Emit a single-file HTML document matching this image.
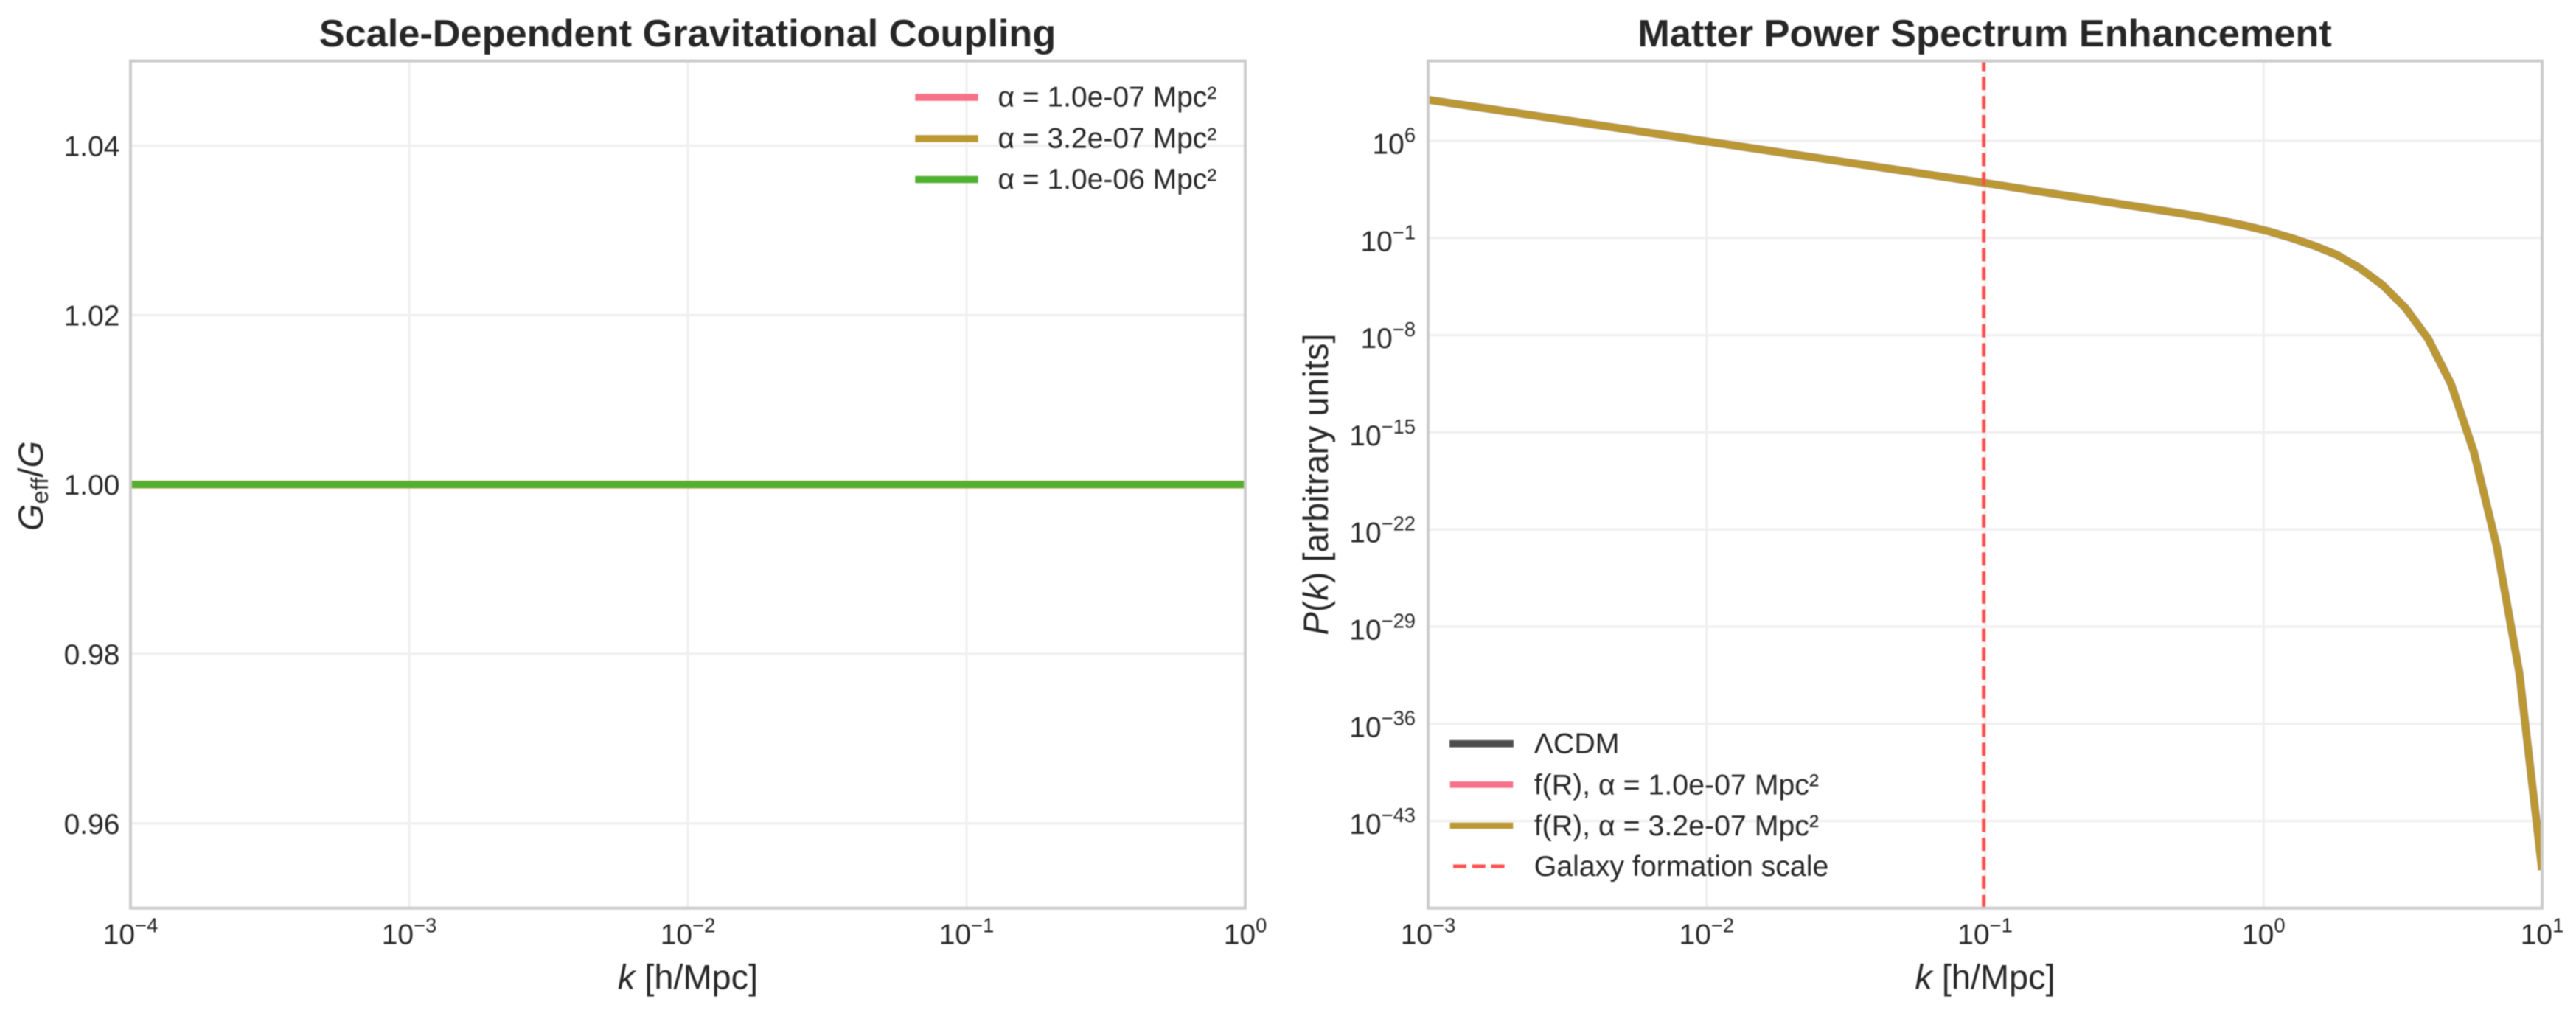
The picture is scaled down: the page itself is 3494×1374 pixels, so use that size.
<!DOCTYPE html>
<html>
<head>
<meta charset="utf-8">
<title>Gravitational coupling and matter power spectrum</title>
<style>
html,body{margin:0;padding:0;background:#fff;width:3494px;height:1374px;overflow:hidden}
svg{display:block;filter:blur(0.8px)}
text{font-family:"Liberation Sans","DejaVu Sans",sans-serif;fill:#262626}
</style>
</head>
<body>
<svg id="fig" xmlns="http://www.w3.org/2000/svg" width="3494" height="1374" viewBox="0 0 3494 1374">
<rect x="0" y="0" width="3494" height="1374" fill="#fff"/>
<defs>
<clipPath id="clipL"><rect x="177" y="82.7" width="1512" height="1149"/></clipPath>
<clipPath id="clipR"><rect x="1937" y="82.7" width="1511" height="1149"/></clipPath>
</defs>
<g id="left-grid"></g>
<g id="right-grid"></g>
<g id="left-series" clip-path="url(#clipL)"></g>
<g id="right-series" clip-path="url(#clipR)"></g>
<g id="left-legend"></g>
<g id="right-legend"></g>
<g id="spines"></g>
<g id="left-ticks"></g>
<g id="right-ticks"></g>
<text x="932.5" y="63" text-anchor="middle" font-size="52.3" font-weight="bold">Scale-Dependent Gravitational Coupling</text>
<text x="2692" y="63" text-anchor="middle" font-size="52.3" font-weight="bold">Matter Power Spectrum Enhancement</text>
<text x="933" y="1341.5" text-anchor="middle" font-size="46.9"><tspan font-style="italic">k</tspan> [h/Mpc]</text>
<text x="2692.5" y="1341.5" text-anchor="middle" font-size="46.9"><tspan font-style="italic">k</tspan> [h/Mpc]</text>
<text transform="translate(58,659) rotate(-90)" text-anchor="middle" font-size="46.9"><tspan font-style="italic">G</tspan><tspan font-size="32.8" dy="7">eff</tspan><tspan dy="-7">/</tspan><tspan font-style="italic">G</tspan></text>
<text transform="translate(1801,657) rotate(-90)" text-anchor="middle" font-size="46.9"><tspan font-style="italic">P</tspan>(<tspan font-style="italic">k</tspan>) [arbitrary units]</text>
</svg>
<script>
// ---------- Left chart data ----------
const gLog10K = [-4, -3, -2, -1, 0];
const gAlpha1 = [1.0, 1.0, 1.0, 1.0, 1.0];
const gAlpha2 = [1.0, 1.0, 1.0, 1.0, 1.0];
const gAlpha3 = [1.0, 1.0, 1.0, 1.0, 1.0];
const gXTicks = [-4, -3, -2, -1, 0];
const gYTicks = [0.96, 0.98, 1.00, 1.02, 1.04];
const gYTickLabels = ["0.96", "0.98", "1.00", "1.02", "1.04"];
const gLegendLabels = ["α = 1.0e-07 Mpc²", "α = 3.2e-07 Mpc²", "α = 1.0e-06 Mpc²"];

// ---------- Right chart data ----------
const pLog10K = [-3, -2, -1, -0.715, -0.3061, -0.2245, -0.1429, -0.0612, 0.0204, 0.1020, 0.1837, 0.2653, 0.3469, 0.4286, 0.5102, 0.5918, 0.6735, 0.7551, 0.8367, 0.9184, 1];
const pLcdm = [8.96, 5.96, 2.96, 2.07, 0.80, 0.53, 0.21, -0.13, -0.53, -1.01, -1.57, -2.23, -3.19, -4.41, -6.06, -8.29, -11.53, -16.41, -23.16, -32.34, -46.52];
const pAlpha1 = [8.96, 5.96, 2.96, 2.07, 0.80, 0.53, 0.21, -0.13, -0.53, -1.01, -1.57, -2.23, -3.19, -4.41, -6.06, -8.29, -11.53, -16.41, -23.16, -32.34, -46.52];
const pAlpha2 = [8.96, 5.96, 2.96, 2.07, 0.80, 0.53, 0.21, -0.13, -0.53, -1.01, -1.57, -2.23, -3.19, -4.41, -6.06, -8.29, -11.53, -16.41, -23.16, -32.34, -46.52];
const pXTicks = [-3, -2, -1, 0, 1];
const pYTicks = [6, -1, -8, -15, -22, -29, -36, -43];
const galaxyScaleLog10K = [-1.005];
const pLegendLabels = ["ΛCDM", "f(R), α = 1.0e-07 Mpc²", "f(R), α = 3.2e-07 Mpc²", "Galaxy formation scale"];

const NS = "http://www.w3.org/2000/svg";
const L = {left: 177, right: 1689, top: 82.7, bottom: 1231.7};
const R = {left: 1937, right: 3448, top: 82.7, bottom: 1231.7};

const xL = v => L.left + (v + 4) / 4 * (L.right - L.left);
const yL = v => L.top + (1.05 - v) / 0.1 * (L.bottom - L.top);
const xR = v => R.left + (v + 3) / 4 * (R.right - R.left);
const yR = v => 191 + (6 - v) * 18.83;

function add(parentId, tag, attrs, text) {
  const el = document.createElementNS(NS, tag);
  for (const k in attrs) el.setAttribute(k, attrs[k]);
  if (text !== undefined) el.textContent = text;
  document.getElementById(parentId).appendChild(el);
  return el;
}
function pathFrom(xs, ys, fx, fy) {
  return xs.map((x, i) => (i ? "L" : "M") + fx(x).toFixed(2) + " " + fy(ys[i]).toFixed(2)).join(" ");
}
function powerLabel(parent, x, y, anchor, exp) {
  const t = add(parent, "text", {x: x, y: y, "text-anchor": anchor, "font-size": 39}, "10");
  const s = document.createElementNS(NS, "tspan");
  s.setAttribute("font-size", "27.3");
  s.setAttribute("dy", "-16");
  s.textContent = String(exp).replace("-", "\u2212");
  t.appendChild(s);
  return t;
}

const GRID = {stroke: "#f0f0f0", "stroke-width": 3.25, fill: "none"};

// Left grid + tick labels
gXTicks.forEach(v => {
  const g = add("left-grid", "line", {x1: xL(v), x2: xL(v), y1: L.top, y2: L.bottom, ...GRID});
  
  
  const t = powerLabel("left-ticks", xL(v), 1280.5, "middle", v);
  
  
});
gYTicks.forEach((v, i) => {
  const g = add("left-grid", "line", {x1: L.left, x2: L.right, y1: yL(v), y2: yL(v), ...GRID});
  
  
  const t = add("left-ticks", "text", {x: 162.5, y: yL(v) + 14, "text-anchor": "end", "font-size": 39}, gYTickLabels[i]);
  
  
});

// Right grid + tick labels
pXTicks.forEach(v => {
  const g = add("right-grid", "line", {x1: xR(v), x2: xR(v), y1: R.top, y2: R.bottom, ...GRID});
  
  
  const t = powerLabel("right-ticks", xR(v), 1280.5, "middle", v);
  
  
});
pYTicks.forEach(v => {
  const g = add("right-grid", "line", {x1: R.left, x2: R.right, y1: yR(v), y2: yR(v), ...GRID});
  
  
  const t = powerLabel("right-ticks", 1920, yR(v) + 17.5, "end", v);
  
  
});

// Left series
const COLORS = {pink: "#f77189", gold: "#bb9832", green: "#50b131", dark: "#4d4d4d", red: "#ff4d4d"};
const LINE = {fill: "none", "stroke-linejoin": "round", "stroke-linecap": "butt"};

const l1 = add("left-series", "path", {d: pathFrom(gLog10K, gAlpha1, xL, yL), stroke: COLORS.pink, "stroke-width": 10.5, ...LINE});


const l2 = add("left-series", "path", {d: pathFrom(gLog10K, gAlpha2, xL, yL), stroke: COLORS.gold, "stroke-width": 10.5, ...LINE});


const l3 = add("left-series", "path", {d: pathFrom(gLog10K, gAlpha3, xL, yL), stroke: COLORS.green, "stroke-width": 9, ...LINE});



// Right series
const r0 = add("right-series", "path", {d: pathFrom(pLog10K, pLcdm, xR, yR), stroke: COLORS.dark, "stroke-width": 10.5, ...LINE});


const r1 = add("right-series", "path", {d: pathFrom(pLog10K, pAlpha1, xR, yR), stroke: COLORS.pink, "stroke-width": 9.75, ...LINE});


const r2 = add("right-series", "path", {d: pathFrom(pLog10K, pAlpha2, xR, yR), stroke: COLORS.gold, "stroke-width": 9.75, ...LINE});


const vl = add("right-series", "line", {x1: xR(galaxyScaleLog10K[0]), x2: xR(galaxyScaleLog10K[0]), y1: R.bottom, y2: R.top, stroke: COLORS.red, "stroke-width": 4.9, "stroke-dasharray": "18 7.8"});



// Left legend
const leftLegendRows = [132, 188, 243.5];
const leftLegendColors = [COLORS.pink, COLORS.gold, COLORS.green];
gLegendLabels.forEach((label, i) => {
  const ln = add("left-legend", "line", {x1: 1246, x2: 1322, y1: leftLegendRows[i], y2: leftLegendRows[i], stroke: leftLegendColors[i], "stroke-width": 9.4, "stroke-linecap": "square"});
  
  
  const t = add("left-legend", "text", {x: 1353.5, y: leftLegendRows[i] + 12.5, "font-size": 39}, label);
  
  
});

// Right legend
const rightLegendRows = [1008.7, 1064.3, 1120, 1175];
const rightLegendColors = [COLORS.dark, COLORS.pink, COLORS.gold, COLORS.red];
pLegendLabels.forEach((label, i) => {
  const isDash = i === 3;
  const ln = add("right-legend", "line", {x1: 1971, x2: isDash ? 2046 : 2048, y1: rightLegendRows[i], y2: rightLegendRows[i], stroke: rightLegendColors[i], "stroke-width": isDash ? 4.9 : (i === 0 ? 9.75 : 8.6), "stroke-linecap": isDash ? "butt" : "square", "stroke-dasharray": isDash ? "18 7.8" : "none"});
  
  
  const t = add("right-legend", "text", {x: 2080.7, y: rightLegendRows[i] + 13, "font-size": 39.3}, label);
  
  
});

// Spines
const sl = add("spines", "rect", {x: L.left, y: L.top, width: L.right - L.left, height: L.bottom - L.top, fill: "none", stroke: "#cccccc", "stroke-width": 4});


const sr = add("spines", "rect", {x: R.left, y: R.top, width: R.right - R.left, height: R.bottom - R.top, fill: "none", stroke: "#cccccc", "stroke-width": 4});


</script>
</body>
</html>
